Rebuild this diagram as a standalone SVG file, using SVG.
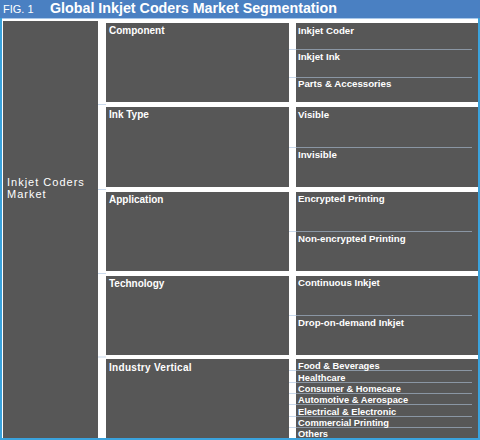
<svg xmlns="http://www.w3.org/2000/svg" width="480" height="440" viewBox="0 0 480 440">
<style>
.box{fill:#575757}
.t{font-family:"Liberation Sans",Arial,sans-serif;fill:#ffffff}
.mid{font-size:10px;font-weight:bold}
.sub{font-size:9.7px;font-weight:bold}
.ind{font-size:9.3px;font-weight:bold}
.div{stroke:#8a96a4;stroke-width:1}
.gap{stroke:#c9d9ec;stroke-width:1}
</style>
<rect x="0" y="0" width="480" height="440" fill="#ffffff"/>
<rect x="0" y="0" width="480" height="18" fill="#4a80c2"/>
<line x1="0" y1="18.5" x2="480" y2="18.5" stroke="#a9c8ea"/>
<rect x="0" y="18" width="2" height="422" fill="#3aa2dc"/>
<rect x="478" y="18" width="2" height="422" fill="#3aa2dc"/>
<rect x="0" y="438" width="480" height="2" fill="#3aa2dc"/>
<text class="t" x="3" y="13" font-size="11">FIG. 1</text>
<text class="t" x="50" y="13" font-size="14" font-weight="bold" textLength="287" lengthAdjust="spacingAndGlyphs">Global Inkjet Coders Market Segmentation</text>

<g id="root">
<rect class="box" x="3" y="21" width="95" height="417"/>
<text class="t" x="7" y="186" font-size="11" letter-spacing="1">Inkjet Coders</text>
<text class="t" x="7" y="198" font-size="11" letter-spacing="1">Market</text>
</g>

<g id="connectors">
<line class="gap" x1="98" y1="104.5" x2="106" y2="104.5"/>
<line class="gap" x1="98" y1="189.5" x2="106" y2="189.5"/>
<line class="gap" x1="98" y1="273.5" x2="106" y2="273.5"/>
<line class="gap" x1="98" y1="357" x2="106" y2="357"/>
<line class="gap" x1="289" y1="49.5" x2="296" y2="49.5"/>
<line class="gap" x1="289" y1="77.5" x2="296" y2="77.5"/>
<line class="gap" x1="289" y1="147.5" x2="296" y2="147.5"/>
<line class="gap" x1="289" y1="231.5" x2="296" y2="231.5"/>
<line class="gap" x1="289" y1="315.5" x2="296" y2="315.5"/>
<line class="gap" x1="289" y1="370.5" x2="296" y2="370.5"/>
<line class="gap" x1="289" y1="382.5" x2="296" y2="382.5"/>
<line class="gap" x1="289" y1="393.5" x2="296" y2="393.5"/>
<line class="gap" x1="289" y1="404.5" x2="296" y2="404.5"/>
<line class="gap" x1="289" y1="416.5" x2="296" y2="416.5"/>
<line class="gap" x1="289" y1="427.5" x2="296" y2="427.5"/>
</g>

<g id="component">
<rect class="box" x="106" y="23" width="183" height="79"/>
<text class="t mid" x="109" y="34">Component</text>
</g>
<g id="component-items">
<rect class="box" x="296" y="23" width="182" height="79"/>
<line class="div" x1="296" y1="49.5" x2="472" y2="49.5"/>
<line class="div" x1="296" y1="77.5" x2="472" y2="77.5"/>
<text class="t sub" x="298" y="34">Inkjet Coder</text>
<text class="t sub" x="298" y="60">Inkjet Ink</text>
<text class="t sub" x="298" y="87">Parts &amp; Accessories</text>
</g>

<g id="ink-type">
<rect class="box" x="106" y="107" width="183" height="80"/>
<text class="t mid" x="109" y="118">Ink Type</text>
</g>
<g id="ink-type-items">
<rect class="box" x="296" y="107" width="182" height="80"/>
<line class="div" x1="296" y1="147.5" x2="472" y2="147.5"/>
<text class="t sub" x="298" y="118">Visible</text>
<text class="t sub" x="298" y="158">Invisible</text>
</g>

<g id="application">
<rect class="box" x="106" y="192" width="183" height="79"/>
<text class="t mid" x="109" y="203">Application</text>
</g>
<g id="application-items">
<rect class="box" x="296" y="192" width="182" height="79"/>
<line class="div" x1="296" y1="231.5" x2="472" y2="231.5"/>
<text class="t sub" x="298" y="202">Encrypted Printing</text>
<text class="t sub" x="298" y="242">Non-encrypted Printing</text>
</g>

<g id="technology">
<rect class="box" x="106" y="276" width="183" height="79"/>
<text class="t mid" x="109" y="287">Technology</text>
</g>
<g id="technology-items">
<rect class="box" x="296" y="276" width="182" height="79"/>
<line class="div" x1="296" y1="315.5" x2="472" y2="315.5"/>
<text class="t sub" x="298" y="286">Continuous Inkjet</text>
<text class="t sub" x="298" y="326">Drop-on-demand Inkjet</text>
</g>

<g id="industry-vertical">
<rect class="box" x="106" y="359" width="183" height="79"/>
<text class="t mid" x="109" y="371" letter-spacing="0.3">Industry Vertical</text>
</g>
<g id="industry-vertical-items">
<rect class="box" x="296" y="359" width="182" height="79"/>
<line class="div" x1="296" y1="370.5" x2="472" y2="370.5"/>
<line class="div" x1="296" y1="382.5" x2="472" y2="382.5"/>
<line class="div" x1="296" y1="393.5" x2="472" y2="393.5"/>
<line class="div" x1="296" y1="404.5" x2="472" y2="404.5"/>
<line class="div" x1="296" y1="416.5" x2="472" y2="416.5"/>
<line class="div" x1="296" y1="427.5" x2="472" y2="427.5"/>
<text class="t ind" x="298" y="369">Food &amp; Beverages</text>
<text class="t ind" x="298" y="381">Healthcare</text>
<text class="t ind" x="298" y="392">Consumer &amp; Homecare</text>
<text class="t ind" x="298" y="403">Automotive &amp; Aerospace</text>
<text class="t ind" x="298" y="415">Electrical &amp; Electronic</text>
<text class="t ind" x="298" y="426">Commercial Printing</text>
<text class="t ind" x="298" y="437">Others</text>
</g>
</svg>
